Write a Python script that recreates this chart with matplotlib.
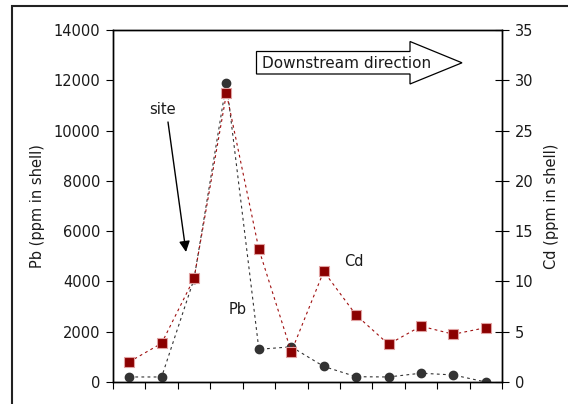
import matplotlib
matplotlib.use("Agg")
import matplotlib.pyplot as plt
from matplotlib.patches import Polygon, Rectangle
import numpy as np

# Sampling sites, upstream -> downstream
sites = np.arange(1, 13)
pb_ppm = [200, 200, 4100, 11900, 1300, 1400, 620, 210, 200, 350, 280, 0]
cd_ppm = [2.0, 3.85, 10.3, 28.7, 13.2, 3.0, 11.0, 6.65, 3.75, 5.55, 4.75, 5.4]

W, H = 568, 404
fig = plt.figure(figsize=(W / 100, H / 100), dpi=100)
plt.rcParams["font.family"] = ["DejaVu Sans"]
fs = 10.5
tc = "#1a1a1a"


def px(x, y):
    # pixel position (from top-left) -> figure fraction
    return x / W, 1 - y / H


ax = fig.add_axes([113 / W, 1 - 382 / H, (502 - 113) / W, (382 - 30) / H])
ax2 = ax.twinx()

ax.plot(sites, pb_ppm, ls=(0, (2.5, 3)), lw=0.8, color="#333333",
        marker="o", ms=6, mfc="#333333", mec="#333333", zorder=3)
ax2.plot(sites, cd_ppm, ls=(0, (2.5, 3)), lw=0.8, color="#a01010",
         marker="s", ms=7.5, mfc="#8b0000", mec="#e0a0a0", mew=0.8, zorder=3)

ax.set_xlim(0.5, 12.5)
ax.set_ylim(0, 14000)
ax2.set_ylim(0, 35)
ax.set_xticks(np.arange(0.5, 13, 1))
ax.set_xticklabels([])
ax.set_yticks(range(0, 14001, 2000))
ax2.set_yticks(range(0, 36, 5))

ax.tick_params(axis="x", direction="out", length=5, width=0.8)
ax.tick_params(axis="y", direction="out", length=5, width=0.8, labelsize=fs,
               pad=4, labelcolor=tc)
ax2.tick_params(axis="y", direction="inout", length=10, width=0.8, labelsize=fs,
                pad=4, labelcolor=tc)
for a in (ax, ax2):
    for s in a.spines.values():
        s.set_linewidth(1.0)

ax.set_ylabel("Pb (ppm in shell)", fontsize=fs, labelpad=6, color=tc)
ax2.set_ylabel("Cd (ppm in shell)", fontsize=fs, labelpad=8, color=tc)

# labels inside the plot
fig.text(*px(162, 109), "site", fontsize=fs, ha="center", va="center", color=tc)
fig.text(*px(238, 310), "Pb", fontsize=fs, ha="center", va="center", color=tc)
fig.text(*px(354, 262), "Cd", fontsize=fs, ha="center", va="center", color=tc)

ax.annotate("", xy=px(186, 252), xycoords="figure fraction",
            xytext=px(168, 122), textcoords="figure fraction",
            arrowprops=dict(arrowstyle="-|>", color="black", lw=1.0,
                            mutation_scale=16, shrinkA=0, shrinkB=0))

# downstream direction block arrow
pts = [(256.5, 51.5), (410, 51.5), (410, 41.5), (462, 62.8),
       (410, 84), (410, 74), (256.5, 74)]
fig.patches.append(Polygon([px(x, y) for x, y in pts], closed=True,
                           transform=fig.transFigure, facecolor="white",
                           edgecolor="black", lw=0.9, zorder=5))
fig.text(*px(262, 63), "Downstream direction", fontsize=11,
         ha="left", va="center", zorder=6, color=tc)

# outer frame of the original figure
fig.patches.append(Rectangle(px(11.5, 420), 600 / W, (420 - 5.5) / H,
                             transform=fig.transFigure, fill=False,
                             edgecolor="#222222", lw=1.5))

fig.savefig("out.png", dpi=100)
